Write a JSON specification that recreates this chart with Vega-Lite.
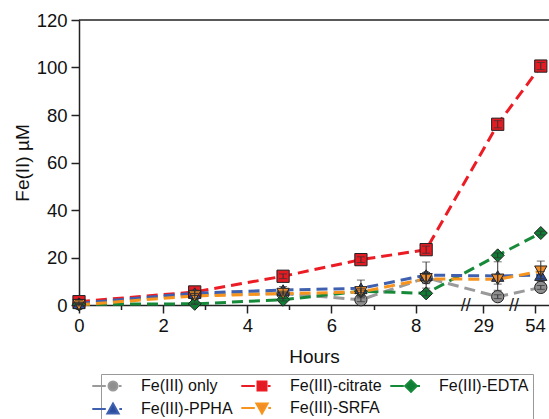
{
  "$schema": "https://vega.github.io/schema/vega-lite/v6.json",
  "width": 470,
  "height": 285,
  "autosize": {"type": "none"},
  "padding": {"left": 79, "top": 20, "right": 0, "bottom": 114},
  "config": {
    "view": {"stroke": null},
    "font": "Liberation Sans",
    "axis": {
      "grid": false,
      "domainColor": "#222",
      "domainWidth": 1.5,
      "tickColor": "#222",
      "tickWidth": 1.5,
      "labelFont": "Liberation Sans",
      "labelFontSize": 18.5,
      "labelColor": "#111",
      "labelFlush": false,
      "titleFont": "Liberation Sans",
      "titleFontSize": 19,
      "titleFontWeight": "normal",
      "titleColor": "#111"
    }
  },
  "data": {
    "values": [
      {"series": "Fe(III) only", "hours": 0, "fe": 0.5, "err": 0.3},
      {"series": "Fe(III) only", "hours": 2.75, "fe": 4.5, "err": 0.5},
      {"series": "Fe(III) only", "hours": 4.85, "fe": 4.8, "err": 0.5},
      {"series": "Fe(III) only", "hours": 6.7, "fe": 2.2, "err": 0.8},
      {"series": "Fe(III) only", "hours": 8.25, "fe": 11.5, "err": 1.5},
      {"series": "Fe(III) only", "hours": 30, "fe": 3.5, "err": 0.8},
      {"series": "Fe(III) only", "hours": 54.4, "fe": 7.4, "err": 0.8},
      {"series": "Fe(III)-citrate", "hours": 0, "fe": 1.4, "err": 0.4},
      {"series": "Fe(III)-citrate", "hours": 2.75, "fe": 5.5, "err": 0.8},
      {"series": "Fe(III)-citrate", "hours": 4.85, "fe": 12.1, "err": 1.0},
      {"series": "Fe(III)-citrate", "hours": 6.7, "fe": 19.1, "err": 1.2},
      {"series": "Fe(III)-citrate", "hours": 8.25, "fe": 23.3, "err": 1.5},
      {"series": "Fe(III)-citrate", "hours": 30, "fe": 76.1, "err": 1.5},
      {"series": "Fe(III)-citrate", "hours": 54.4, "fe": 100.6, "err": 1.5},
      {"series": "Fe(III)-EDTA", "hours": 0, "fe": 0.3, "err": 0.3},
      {"series": "Fe(III)-EDTA", "hours": 2.75, "fe": 0.5, "err": 0.3},
      {"series": "Fe(III)-EDTA", "hours": 4.85, "fe": 2.2, "err": 0.5},
      {"series": "Fe(III)-EDTA", "hours": 6.7, "fe": 5.8, "err": 0.5},
      {"series": "Fe(III)-EDTA", "hours": 8.25, "fe": 4.9, "err": 1.0},
      {"series": "Fe(III)-EDTA", "hours": 30, "fe": 20.9, "err": 1.0},
      {"series": "Fe(III)-EDTA", "hours": 54.4, "fe": 30.3, "err": 0.8},
      {"series": "Fe(III)-PPHA", "hours": 0, "fe": 0.7, "err": 0.5},
      {"series": "Fe(III)-PPHA", "hours": 2.75, "fe": 5.0, "err": 1.0},
      {"series": "Fe(III)-PPHA", "hours": 4.85, "fe": 6.3, "err": 1.5},
      {"series": "Fe(III)-PPHA", "hours": 6.7, "fe": 7.0, "err": 3.5},
      {"series": "Fe(III)-PPHA", "hours": 8.25, "fe": 12.6, "err": 5.5},
      {"series": "Fe(III)-PPHA", "hours": 30, "fe": 12.2, "err": 6.0},
      {"series": "Fe(III)-PPHA", "hours": 54.4, "fe": 12.6, "err": 1.5},
      {"series": "Fe(III)-SRFA", "hours": 0, "fe": 0.1, "err": 0.5},
      {"series": "Fe(III)-SRFA", "hours": 2.75, "fe": 3.8, "err": 1.0},
      {"series": "Fe(III)-SRFA", "hours": 4.85, "fe": 4.8, "err": 1.0},
      {"series": "Fe(III)-SRFA", "hours": 6.7, "fe": 5.5, "err": 1.5},
      {"series": "Fe(III)-SRFA", "hours": 8.25, "fe": 11.0, "err": 2.0},
      {"series": "Fe(III)-SRFA", "hours": 30, "fe": 10.8, "err": 2.0},
      {"series": "Fe(III)-SRFA", "hours": 54.4, "fe": 14.2, "err": 4.3}
    ]
  },
  "encoding": {
    "x": {
      "field": "hours",
      "type": "quantitative",
      "title": "Hours",
      "scale": {
        "domain": [0, 9.19, 27.78, 31.13, 52.54, 54.97],
        "range": [0, 386.7, 386.7, 435, 435, 470],
        "nice": false,
        "zero": false
      },
      "axis": {
        "values": [0, 1, 2, 3, 4, 5, 6, 7, 8, 29, 54],
        "labelExpr": "(datum.value < 8 && datum.value % 2 == 1) ? '' : datum.label",
        "tickSize": {"condition": {"test": "datum.value < 8 && datum.value % 2 == 1", "value": 4.5}, "value": 8},
        "labelPadding": 3,
        "titlePadding": 13
      }
    },
    "y": {
      "field": "fe",
      "type": "quantitative",
      "title": "Fe(II) µM",
      "scale": {"domain": [0, 120], "nice": false},
      "axis": {"values": [0, 20, 40, 60, 80, 100, 120], "tickSize": 8, "labelPadding": 4, "titlePadding": 4}
    }
  },
  "layer": [
    {
      "transform": [{"filter": "false"}],
      "mark": {"type": "point", "filled": true, "opacity": 1},
      "encoding": {
        "fill": {
          "field": "series",
          "type": "nominal",
          "scale": {
            "domain": ["Fe(III) only", "Fe(III)-citrate", "Fe(III)-EDTA", "Fe(III)-PPHA", "Fe(III)-SRFA"],
            "range": ["#8f8f8f", "#e31b23", "#0f7d34", "#2b4ea0", "#f28c28"]
          },
          "legend": {
            "orient": "none",
            "legendX": 22,
            "legendY": 354,
            "direction": "horizontal",
            "columns": 3,
            "gridAlign": "none",
            "title": null,
            "labelFont": "Liberation Sans",
            "labelFontSize": 16,
            "labelColor": "#111",
            "symbolSize": 81,
            "symbolStrokeWidth": 2,
            "symbolOpacity": 1,
            "labelOffset": 20,
            "columnPadding": 4,
            "rowPadding": 3,
            "padding": 4,
            "strokeColor": "#999",
            "fillColor": "white",
            "cornerRadius": 0
          }
        },
        "stroke": {
          "field": "series",
          "type": "nominal",
          "scale": {
            "domain": ["Fe(III) only", "Fe(III)-citrate", "Fe(III)-EDTA", "Fe(III)-PPHA", "Fe(III)-SRFA"],
            "range": ["#9a9a9a", "#ec1c24", "#178a3a", "#3f60ae", "#f7941d"]
          }
        },
        "shape": {
          "field": "series",
          "type": "nominal",
          "scale": {
            "domain": ["Fe(III) only", "Fe(III)-citrate", "Fe(III)-EDTA", "Fe(III)-PPHA", "Fe(III)-SRFA"],
            "range": [
              "M-4.6,0H-1.6M1.3,0H1.9M-1,0A1,1 0 1,1 1,0A1,1 0 1,1 -1,0Z",
              "M-4.6,0H-1.6M1.3,0H1.9M-1,-1H1V1H-1Z",
              "M-4.6,0H-1.6M1.4,0H2M0,-1.3L1.3,0L0,1.3L-1.3,0Z",
              "M-4.6,0H-1.6M1.4,0H2M0,-1.2L1.25,1H-1.25Z",
              "M-4.6,0H-1.6M1.4,0H2M0,1.2L1.25,-1H-1.25Z"
            ]
          }
        }
      }
    },
    {
      "mark": {"type": "line", "strokeWidth": 3, "strokeDash": [11, 6]},
      "encoding": {
        "stroke": {"field": "series", "type": "nominal", "legend": null}
      }
    },
    {
      "transform": [{"filter": "datum.series == 'Fe(III) only'"}],
      "mark": {"type": "point", "shape": "circle", "filled": true, "size": 150, "fill": "#8f8f8f", "stroke": "#222", "strokeWidth": 1, "opacity": 1}
    },
    {
      "transform": [{"filter": "datum.series == 'Fe(III)-citrate'"}],
      "mark": {"type": "point", "shape": "square", "filled": true, "size": 150, "fill": "#e31b23", "stroke": "#222", "strokeWidth": 1, "opacity": 1}
    },
    {
      "transform": [{"filter": "datum.series == 'Fe(III)-EDTA'"}],
      "mark": {"type": "point", "shape": "diamond", "filled": true, "size": 170, "fill": "#0f7d34", "stroke": "#222", "strokeWidth": 1, "opacity": 1}
    },
    {
      "transform": [{"filter": "datum.series == 'Fe(III)-PPHA'"}],
      "mark": {"type": "point", "shape": "triangle-up", "filled": true, "size": 150, "fill": "#2b4ea0", "stroke": "#222", "strokeWidth": 1, "opacity": 1}
    },
    {
      "transform": [{"filter": "datum.series == 'Fe(III)-SRFA'"}],
      "mark": {"type": "point", "shape": "triangle-down", "filled": true, "size": 150, "fill": "#f28c28", "stroke": "#222", "strokeWidth": 1, "opacity": 1}
    },
    {
      "mark": {"type": "errorbar", "ticks": {"size": 8, "color": "#333", "strokeWidth": 1}, "rule": {"color": "#333", "strokeWidth": 1}},
      "encoding": {
        "y": {"field": "fe", "type": "quantitative"},
        "yError": {"field": "err"}
      }
    },
    {
      "data": {"values": [{"top": 120}]},
      "mark": {"type": "rule", "color": "#222", "strokeWidth": 1.5},
      "encoding": {"x": null, "y": {"field": "top", "type": "quantitative"}}
    },
    {
      "data": {"values": [{"hours": 9.19, "zero": 0, "mark": "//"}, {"hours": 31.13, "zero": 0, "mark": "//"}]},
      "mark": {"type": "text", "fontSize": 18, "align": "center", "baseline": "middle", "color": "#222", "dy": 1},
      "encoding": {
        "y": {"field": "zero", "type": "quantitative"},
        "text": {"field": "mark"}
      }
    }
  ]
}
